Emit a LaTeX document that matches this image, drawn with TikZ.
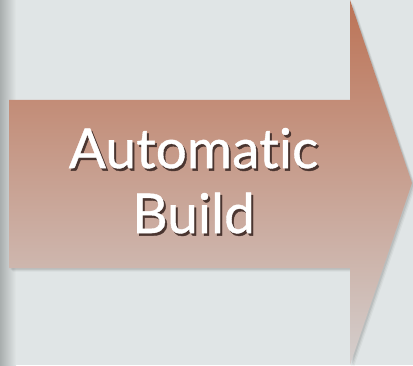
\documentclass[tikz,border=0pt]{standalone}
\usepackage{fontspec}
\setmainfont{Lato}[Ligatures=NoCommon, FakeBold=0.7]
\usetikzlibrary{shadings}
\definecolor{bgpaper}{HTML}{E0E5E6}
\definecolor{edgegrey}{HTML}{A9AEAE}
\definecolor{arrowtop}{HTML}{BC7356}
\definecolor{arrowbot}{HTML}{D4CFCE}
\definecolor{labelshade}{HTML}{4A3530}
% a word set in white over its own dark offset copy
\newcommand\castshadow[1]{\leavevmode\rlap{\kern2pt\raisebox{-2.5pt}{\textcolor{labelshade}{#1}}}#1}
\tikzset{
  labeltext/.style={font=\fontsize{55}{65}\selectfont, align=center, inner sep=0pt, text=white},
}
\begin{document}
\begin{tikzpicture}[x=1pt,y=1pt]
  % page background
  \fill[bgpaper] (0,0) rectangle (413,365);
  \shade[left color=edgegrey, right color=bgpaper] (0,0) rectangle (16,365);
  \useasboundingbox (0,0) rectangle (413,365);

  % soft drop shadow of the arrow
  \foreach \o/\a in {3.5/0.04,2.5/0.06,1.5/0.08} {
    \fill[black, opacity=\a, shift={(\o,-\o)}]
      (9,97) -- (350,97) -- (350,0) -- (412,182) -- (350,365) -- (350,265) -- (9,265) -- cycle;
  }

  % the arrow
  \coordinate (tip) at (412,182);
  \shade[top color=arrowtop, bottom color=arrowbot, shading angle=0]
    (9,97) -- (350,97) -- (350,0) -- (tip) -- (350,365) -- (350,265) -- (9,265) -- cycle;

  % label
  \node[labeltext] (label) at (193.5,183) {\castshadow{Automatic}\\\castshadow{Build}};
\end{tikzpicture}
\end{document}
